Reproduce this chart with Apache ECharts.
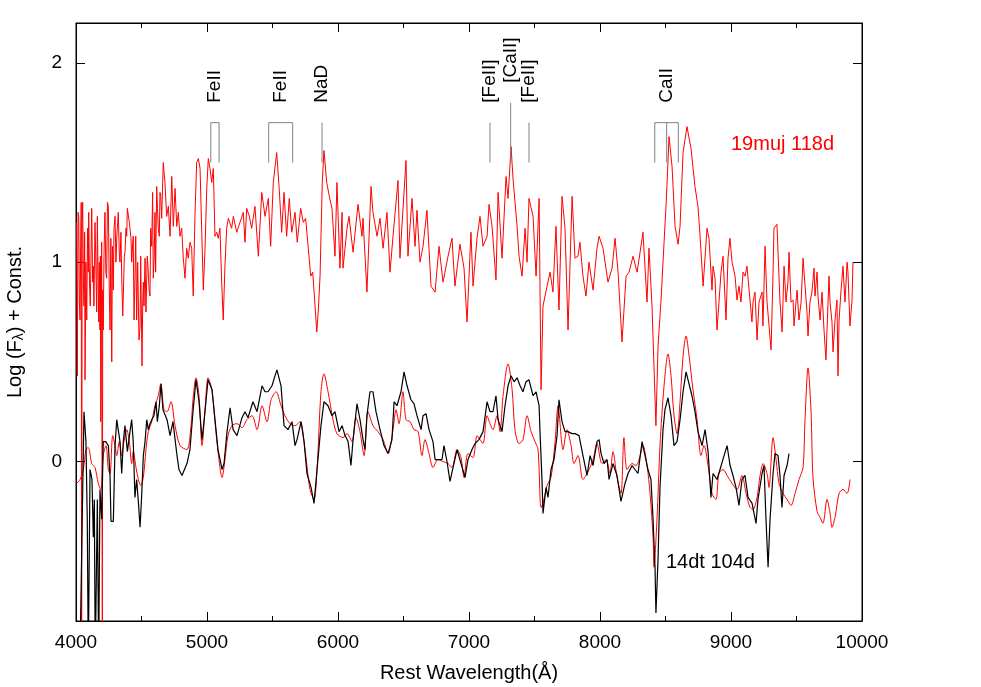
<!DOCTYPE html>
<html>
<head>
<meta charset="utf-8">
<script src="https://cdn.jsdelivr.net/npm/echarts@6/dist/echarts.min.js"></script>
<style>
  html, body { margin: 0; padding: 0; background: #fff; }
  #chart { width: 981px; height: 687px; }
</style>
</head>
<body>
<div id="chart"></div>
<script>
// SN 2019muj at 118d (top, red), [wavelength (A), log flux + const]
const muj118 = [
  [4005,1.20],[4010,0.43],[4016,1.25],[4021,1.23],[4026,0.80],[4031,0.71],[4036,1.10],[4040,1.30],[4043,-1.0],[4047,1.20],
  [4051,1.30],[4056,0.92],[4061,0.78],[4066,1.15],[4069,0.41],[4075,1.00],[4082,0.71],[4088,1.17],[4094,0.95],[4097,1.25],
  [4103,0.90],[4109,0.78],[4115,1.05],[4120,1.27],[4127,0.90],[4132,0.98],[4137,0.78],[4145,1.20],[4150,1.05],[4158,0.75],
  [4163,1.23],[4170,1.22],[4173,0.70],[4178,1.00],[4183,0.66],[4186,1.03],[4189,0.20],[4196,1.10],[4201,-1.0],[4204,0.86],
  [4208,0.66],[4214,1.05],[4221,1.25],[4228,0.95],[4234,0.92],[4240,1.30],[4247,1.28],[4254,0.86],[4260,0.66],[4266,1.12],
  [4273,0.50],[4278,1.08],[4285,0.86],[4290,1.17],[4298,1.23],[4305,1.00],[4311,1.12],[4318,1.20],[4323,1.25],[4331,1.03],
  [4336,1.00],[4343,1.15],[4349,0.92],[4357,0.73],[4361,0.83],[4369,1.03],[4374,1.05],[4382,1.17],[4387,1.13],[4392,1.27],
  [4399,1.27],[4407,1.20],[4412,1.20],[4420,1.12],[4425,1.00],[4433,1.10],[4437,1.13],[4443,0.71],[4450,0.92],[4456,1.13],
  [4463,0.71],[4471,1.00],[4476,1.00],[4481,0.61],[4489,0.68],[4494,1.03],[4502,1.03],[4504,0.48],[4509,0.78],[4514,0.90],
  [4519,0.78],[4527,1.02],[4534,0.75],[4540,0.75],[4544,1.03],[4552,0.95],[4558,0.86],[4565,0.83],[4570,1.17],[4578,1.08],
  [4585,1.35],[4590,0.92],[4597,1.03],[4603,1.25],[4608,0.95],[4616,1.38],[4622,1.27],[4628,1.17],[4636,1.13],[4641,1.35],
  [4647,1.33],[4654,1.22],[4660,1.36],[4666,1.50],[4679,1.40],[4692,1.23],[4705,1.28],[4718,1.13],[4731,1.43],[4743,1.18],
  [4756,1.37],[4769,1.18],[4781,1.25],[4794,1.13],[4807,1.17],[4819,1.02],[4832,0.92],[4845,1.07],[4857,1.02],[4870,1.10],
  [4883,1.07],[4895,0.83],[4908,1.23],[4921,1.50],[4934,1.52],[4947,1.47],[4960,1.15],[4972,0.86],[4985,1.07],[4998,1.37],
  [5010,1.52],[5023,1.47],[5036,1.40],[5048,1.47],[5061,1.13],[5074,1.15],[5086,1.12],[5099,1.17],[5112,0.90],[5124,0.71],
  [5137,0.98],[5150,1.17],[5163,1.22],[5188,1.17],[5201,1.23],[5227,1.15],[5252,1.20],[5277,1.25],[5290,1.10],[5303,1.27],
  [5323,1.23],[5341,1.17],[5366,1.28],[5392,1.03],[5418,1.35],[5443,1.23],[5468,1.32],[5486,1.08],[5506,1.40],[5532,1.55],
  [5552,1.36],[5570,1.15],[5588,1.35],[5608,1.13],[5628,1.32],[5647,1.15],[5672,1.25],[5689,1.10],[5715,1.27],[5735,1.20],
  [5753,1.22],[5773,1.07],[5792,0.93],[5807,0.95],[5825,0.78],[5838,0.65],[5850,0.76],[5863,0.93],[5880,1.40],[5893,1.56],
  [5914,1.40],[5934,1.33],[5954,1.27],[5977,1.03],[5992,1.40],[6015,0.97],[6031,1.25],[6038,0.97],[6069,1.17],[6084,1.23],
  [6115,1.05],[6153,1.29],[6183,1.13],[6191,1.22],[6221,0.85],[6252,1.38],[6267,1.25],[6298,1.13],[6321,1.22],[6344,1.07],
  [6374,1.25],[6397,0.95],[6420,1.13],[6458,1.41],[6473,1.02],[6519,1.51],[6534,1.03],[6565,1.32],[6588,1.08],[6603,1.26],
  [6626,1.00],[6649,1.08],[6679,1.26],[6710,0.88],[6741,0.85],[6771,1.08],[6802,0.90],[6840,1.03],[6870,1.12],[6893,0.88],
  [6931,1.09],[6962,0.97],[6985,0.70],[7015,1.15],[7031,0.88],[7061,1.12],[7084,1.23],[7107,1.08],[7138,1.13],[7153,1.29],
  [7176,1.18],[7206,0.91],[7222,1.35],[7252,1.02],[7283,1.43],[7298,1.32],[7321,1.58],[7336,1.42],[7367,1.18],[7382,1.03],
  [7405,0.93],[7428,1.17],[7443,1.00],[7458,1.32],[7489,1.23],[7512,0.93],[7535,1.32],[7550,0.36],[7565,0.78],[7596,0.88],
  [7619,0.95],[7641,0.85],[7664,1.18],[7687,0.76],[7710,1.33],[7733,1.17],[7756,0.66],[7787,1.33],[7809,1.02],[7832,1.03],
  [7847,1.10],[7870,0.93],[7893,0.83],[7916,1.00],[7947,0.86],[7977,1.07],[7993,1.13],[8023,1.07],[8061,0.90],[8092,0.97],
  [8115,1.12],[8138,0.95],[8168,0.60],[8199,0.93],[8222,0.95],[8252,1.03],[8283,0.95],[8306,1.05],[8328,1.15],[8359,0.80],
  [8374,1.07],[8397,0.78],[8412,0.48],[8427,0.18],[8443,0.58],[8466,0.81],[8489,1.10],[8504,1.28],[8527,1.63],[8550,1.48],
  [8573,1.18],[8596,1.09],[8611,1.18],[8634,1.55],[8664,1.68],[8695,1.57],[8725,1.38],[8748,1.28],[8764,1.13],[8787,0.88],
  [8817,1.17],[8832,1.12],[8855,0.86],[8863,0.98],[8878,0.92],[8893,0.66],[8901,0.73],[8924,0.95],[8939,1.03],[8962,0.71],
  [8977,1.02],[8992,1.12],[9008,1.00],[9015,0.98],[9031,0.93],[9046,0.81],[9061,0.88],[9076,0.80],[9092,0.95],[9107,0.93],
  [9122,0.98],[9145,0.81],[9160,0.70],[9168,0.80],[9183,0.85],[9199,0.61],[9214,0.80],[9237,0.85],[9244,0.68],[9260,1.08],
  [9275,0.80],[9283,0.81],[9306,0.56],[9321,0.95],[9328,1.17],[9351,1.19],[9359,1.05],[9374,0.80],[9390,0.65],[9405,0.98],
  [9420,0.80],[9435,0.90],[9443,1.05],[9458,0.80],[9474,0.81],[9481,0.68],[9504,0.86],[9519,0.71],[9535,0.80],[9550,1.02],
  [9565,1.03],[9580,0.75],[9588,0.63],[9603,0.80],[9618,0.85],[9634,0.97],[9641,0.83],[9657,0.95],[9664,0.83],[9680,0.71],
  [9695,0.85],[9710,0.66],[9725,0.51],[9733,0.66],[9748,0.93],[9756,0.80],[9771,0.70],[9779,0.55],[9794,0.71],[9809,0.81],
  [9817,0.43],[9825,0.71],[9840,0.86],[9855,0.98],[9870,0.80],[9886,1.00],[9893,0.95],[9908,0.68],[9924,0.81],[9931,1.00]
];

// SN 2019muj smoothed, shifted down for comparison (bottom, red)
const muj118Low = [
  [4005,-0.11],[4031,-0.09],[4056,-0.04],[4076,0.06],[4094,0.07],[4120,-0.01],[4145,-0.03],[4170,-0.11],[4189,-0.14],[4208,0.03],
  [4229,0.08],[4247,-0.04],[4260,-0.06],[4280,0.13],[4298,0.08],[4311,0.03],[4331,0.10],[4349,0.03],[4366,0.10],[4387,0.16],
  [4407,0.10],[4425,-0.01],[4437,0.05],[4458,-0.03],[4476,-0.09],[4494,-0.12],[4514,-0.08],[4534,0.06],[4552,0.15],[4578,0.20],
  [4603,0.28],[4628,0.33],[4647,0.39],[4672,0.26],[4695,0.25],[4725,0.30],[4756,0.18],[4794,0.08],[4847,0.06],[4878,0.18],
  [4893,0.31],[4916,0.42],[4939,0.33],[4962,0.08],[4985,0.26],[5008,0.42],[5038,0.36],[5061,0.20],[5084,0.05],[5115,-0.08],
  [5137,0.01],[5160,0.13],[5191,0.18],[5229,0.19],[5267,0.17],[5305,0.21],[5344,0.23],[5382,0.16],[5420,0.28],[5458,0.20],
  [5489,0.31],[5527,0.35],[5565,0.28],[5595,0.23],[5634,0.19],[5672,0.18],[5710,0.20],[5748,0.06],[5786,-0.14],[5817,-0.19],
  [5840,-0.04],[5870,0.35],[5893,0.44],[5924,0.35],[5962,0.21],[5992,0.14],[6038,0.12],[6069,0.14],[6107,0.10],[6137,0.22],
  [6168,0.15],[6199,0.03],[6229,0.25],[6267,0.18],[6305,0.15],[6344,0.11],[6382,0.04],[6420,0.16],[6443,0.26],[6466,0.19],
  [6496,0.35],[6519,0.21],[6550,0.20],[6580,0.16],[6611,0.15],[6641,0.03],[6664,0.11],[6695,0.04],[6725,-0.03],[6763,0.01],
  [6802,0.00],[6840,-0.01],[6870,-0.03],[6909,0.06],[6939,0.02],[6962,-0.08],[6992,0.04],[7031,0.02],[7061,0.13],[7084,0.11],
  [7107,0.09],[7138,0.23],[7160,0.19],[7183,0.16],[7214,0.23],[7237,0.15],[7260,0.33],[7298,0.49],[7329,0.36],[7351,0.16],
  [7382,0.09],[7412,0.11],[7443,0.23],[7474,0.15],[7504,0.10],[7527,0.06],[7550,-0.23],[7565,-0.21],[7596,-0.12],[7626,-0.08],
  [7657,0.10],[7680,0.28],[7718,0.06],[7748,0.16],[7779,0.08],[7802,-0.01],[7832,0.03],[7870,-0.09],[7909,-0.05],[7947,0.01],
  [7977,0.09],[8015,-0.01],[8046,0.01],[8076,-0.06],[8099,0.05],[8130,-0.08],[8160,-0.16],[8183,0.12],[8206,-0.04],[8245,-0.01],
  [8275,-0.02],[8298,0.01],[8328,0.08],[8359,-0.02],[8382,-0.16],[8405,-0.38],[8412,-0.53],[8435,-0.29],[8458,0.08],[8489,0.38],
  [8519,0.54],[8542,0.43],[8565,0.23],[8588,0.14],[8611,0.30],[8634,0.53],[8657,0.63],[8680,0.53],[8710,0.36],[8741,0.21],
  [8771,0.03],[8794,0.08],[8825,-0.02],[8855,-0.16],[8885,-0.19],[8908,-0.06],[8939,-0.04],[8970,-0.07],[9008,-0.11],[9046,-0.14],
  [9084,-0.07],[9115,-0.16],[9145,-0.23],[9168,-0.24],[9199,-0.18],[9222,-0.07],[9245,-0.01],[9275,-0.06],[9290,-0.13],[9321,0.12],
  [9344,0.01],[9367,-0.11],[9397,-0.16],[9428,-0.19],[9458,-0.22],[9489,-0.16],[9519,-0.09],[9550,-0.03],[9565,0.21],[9588,0.47],
  [9611,0.25],[9626,-0.08],[9657,-0.25],[9680,-0.28],[9702,-0.31],[9733,-0.19],[9756,-0.26],[9771,-0.33],[9794,-0.28],[9825,-0.16],
  [9855,-0.14],[9886,-0.16],[9909,-0.09]
];

// SN 2014dt at 104d (bottom, black)
const dt104 = [
  [4030,-1.0],[4061,0.25],[4076,0.10],[4086,-0.29],[4094,-1.0],[4107,-0.04],[4122,-0.09],[4132,-0.38],[4140,-0.19],[4147,-1.0],
  [4163,-0.19],[4173,-1.0],[4183,-0.14],[4196,-0.29],[4208,0.10],[4227,0.10],[4247,0.08],[4260,-0.08],[4267,-0.30],[4285,-0.30],
  [4298,0.08],[4311,0.21],[4323,0.21],[4336,0.10],[4349,-0.06],[4361,0.10],[4374,0.18],[4392,0.05],[4412,0.15],[4425,0.21],
  [4437,0.10],[4450,-0.18],[4463,-0.09],[4476,-0.20],[4489,-0.33],[4502,-0.16],[4514,0.03],[4527,0.10],[4540,0.21],[4552,0.16],
  [4565,0.19],[4578,0.21],[4595,0.23],[4611,0.30],[4621,0.20],[4636,0.28],[4649,0.39],[4664,0.26],[4695,0.21],[4718,0.13],
  [4740,0.20],[4771,0.03],[4786,-0.04],[4809,-0.07],[4847,-0.01],[4870,0.06],[4893,0.25],[4916,0.41],[4939,0.30],[4962,0.11],
  [4977,0.20],[5008,0.41],[5038,0.36],[5061,0.21],[5084,0.06],[5115,-0.04],[5130,-0.01],[5153,0.15],[5176,0.27],[5199,0.16],
  [5229,0.13],[5267,0.22],[5290,0.25],[5313,0.22],[5351,0.30],[5382,0.25],[5420,0.38],[5443,0.35],[5466,0.35],[5496,0.38],
  [5519,0.43],[5534,0.46],[5565,0.38],[5588,0.18],[5618,0.16],[5649,0.20],[5672,0.08],[5687,0.11],[5718,0.20],[5741,0.10],
  [5763,-0.06],[5794,-0.13],[5817,-0.21],[5840,-0.04],[5870,0.18],[5893,0.30],[5924,0.28],[5954,0.23],[5977,0.25],[5992,0.25],
  [6008,0.15],[6031,0.18],[6054,0.13],[6077,0.10],[6099,-0.02],[6115,0.11],[6145,0.29],[6168,0.21],[6191,0.11],[6206,0.06],
  [6221,0.23],[6244,0.35],[6267,0.35],[6290,0.25],[6321,0.16],[6351,0.08],[6382,0.04],[6412,0.11],[6428,0.30],[6450,0.28],
  [6481,0.35],[6504,0.45],[6527,0.38],[6557,0.31],[6580,0.29],[6603,0.23],[6634,0.16],[6649,0.23],[6672,0.24],[6695,0.16],
  [6725,0.10],[6741,0.01],[6763,0.01],[6794,0.01],[6809,0.08],[6832,0.00],[6855,-0.10],[6878,-0.03],[6909,0.06],[6939,-0.01],
  [6970,-0.08],[6992,0.01],[7023,0.06],[7046,0.09],[7076,0.11],[7107,0.15],[7138,0.30],[7160,0.25],[7183,0.25],[7206,0.33],
  [7222,0.21],[7252,0.15],[7275,0.28],[7298,0.38],[7321,0.43],[7344,0.40],[7367,0.42],[7390,0.38],[7412,0.35],[7435,0.40],
  [7458,0.41],[7489,0.33],[7512,0.35],[7535,0.28],[7542,0.15],[7557,-0.09],[7565,-0.26],[7588,-0.13],[7603,-0.18],[7626,-0.04],
  [7649,0.01],[7672,0.13],[7687,0.31],[7710,0.20],[7733,0.15],[7756,0.15],[7787,0.14],[7809,0.14],[7840,0.13],[7870,0.03],
  [7901,-0.07],[7924,0.03],[7947,-0.02],[7977,0.10],[7993,0.11],[8008,0.04],[8031,-0.01],[8054,0.01],[8069,-0.09],[8099,-0.01],
  [8130,-0.07],[8160,-0.20],[8191,-0.11],[8214,-0.06],[8245,-0.02],[8267,-0.04],[8290,-0.06],[8321,0.10],[8344,0.03],[8366,-0.04],
  [8389,-0.09],[8405,-0.29],[8420,-0.53],[8427,-0.76],[8443,-0.49],[8458,-0.13],[8481,0.16],[8496,0.26],[8519,0.32],[8542,0.23],
  [8565,0.08],[8588,0.10],[8611,0.21],[8634,0.35],[8657,0.45],[8672,0.45],[8702,0.33],[8725,0.25],[8748,0.15],[8779,0.08],
  [8802,0.16],[8825,0.05],[8847,-0.18],[8863,-0.06],[8893,-0.09],[8916,-0.04],[8947,0.03],[8970,0.08],[8993,-0.02],[9015,-0.07],
  [9038,-0.13],[9061,-0.22],[9084,-0.09],[9107,-0.07],[9130,-0.18],[9161,-0.21],[9191,-0.31],[9206,-0.19],[9237,-0.06],[9252,-0.02],
  [9267,-0.29],[9283,-0.53],[9298,-0.29],[9321,-0.06],[9336,0.04],[9359,0.03],[9374,-0.07],[9389,-0.23],[9405,-0.07],[9428,-0.02],
  [9443,0.04]
];

// line identifications: wavelengths of the marker ticks
const lineIds = [
  { name: 'FeII',   waves: [5029, 5092] },
  { name: 'FeII',   waves: [5471, 5654] },
  { name: 'NaD',    waves: [5878] },
  { name: '[FeII]', waves: [7160] },
  { name: '[CaII]', waves: [7318], tall: true },
  { name: '[FeII]', waves: [7458] },
  { name: 'CaII',   waves: [8418, 8509, 8598] }
];
const markTop = 1.70, markBottom = 1.50, tallTop = 1.80;
const labelBase = 1.80, tallLabelBase = 1.90;

const xTicks = [4000, 5000, 6000, 7000, 8000, 9000, 10000];
const yTicks = [0, 1, 2];

const FONT = "'Liberation Sans', Arial, sans-serif";
const chart = echarts.init(document.getElementById('chart'));

const idSeries = {
  type: 'custom',
  silent: true,
  clip: false,
  z: 5,
  data: lineIds.map(g => [g.waves[0], markBottom]),
  renderItem: function (params, api) {
    const g = lineIds[params.dataIndex];
    const top = g.tall ? tallTop : markTop;
    const yT = api.coord([g.waves[0], top])[1];
    const yB = api.coord([g.waves[0], markBottom])[1];
    const xs = g.waves.map(w => api.coord([w, markBottom])[0]);
    const lineStyle = { stroke: '#808080', lineWidth: 1 };
    const children = xs.map(x => ({
      type: 'line',
      shape: { x1: x, y1: yT, x2: x, y2: yB },
      style: lineStyle
    }));
    if (xs.length > 1) {
      children.push({
        type: 'line',
        shape: { x1: xs[0], y1: yT, x2: xs[xs.length - 1], y2: yT },
        style: lineStyle
      });
    }
    const cx = (xs[0] + xs[xs.length - 1]) / 2;
    const ly = api.coord([g.waves[0], g.tall ? tallLabelBase : labelBase])[1];
    children.push({
      type: 'text',
      x: cx,
      y: ly,
      rotation: Math.PI / 2,
      style: {
        text: g.name,
        fill: '#000',
        font: '19px ' + FONT,
        align: 'left',
        verticalAlign: 'middle'
      }
    });
    return { type: 'group', children: children };
  }
};

const option = {
  animation: false,
  backgroundColor: '#fff',
  textStyle: { fontFamily: FONT },
  grid: {
    left: 76, right: 119, top: 23, bottom: 66,
    outerBoundsMode: 'none',
    show: true, borderColor: '#000', borderWidth: 1
  },
  xAxis: [
    {
      type: 'value', min: 4000, max: 10000, interval: 1000,
      name: 'Rest Wavelength(Å)', nameLocation: 'middle', nameGap: 42,
      nameTextStyle: { color: '#000', fontSize: 20, fontFamily: FONT },
      axisLine: { show: true, onZero: false, lineStyle: { color: '#000' } },
      axisTick: { inside: true, length: 9, lineStyle: { color: '#000' } },
      minorTick: { show: true, splitNumber: 2, length: 5, lineStyle: { color: '#000' } },
      axisLabel: { color: '#000', fontSize: 19, margin: 12, fontFamily: FONT,
        formatter: v => xTicks.includes(v) ? String(v) : '' },
      splitLine: { show: false }
    },
    {
      type: 'value', min: 4000, max: 10000, interval: 1000, position: 'top',
      axisLine: { show: true, onZero: false, lineStyle: { color: '#000' } },
      axisTick: { inside: true, length: 9, lineStyle: { color: '#000' } },
      minorTick: { show: true, splitNumber: 2, length: 5, lineStyle: { color: '#000' } },
      axisLabel: { show: false },
      splitLine: { show: false }
    }
  ],
  yAxis: [
    {
      type: 'value', min: -0.8, max: 2.2,
      name: 'Log (F{sub|λ}) + Const.', nameLocation: 'middle', nameGap: 50, nameRotate: 90,
      nameTextStyle: {
        color: '#000', fontSize: 20, fontFamily: FONT,
        rich: { sub: { fontSize: 14, fontFamily: FONT, color: '#000', padding: [8, 0, 0, 0] } }
      },
      axisLine: { show: true, onZero: false, lineStyle: { color: '#000' } },
      axisTick: { inside: true, length: 9, customValues: yTicks, lineStyle: { color: '#000' } },
      axisLabel: { color: '#000', fontSize: 19, margin: 14, fontFamily: FONT, customValues: yTicks },
      splitLine: { show: false }
    },
    {
      type: 'value', min: -0.8, max: 2.2, position: 'right',
      axisLine: { show: true, onZero: false, lineStyle: { color: '#000' } },
      axisTick: { inside: true, length: 9, customValues: yTicks, lineStyle: { color: '#000' } },
      axisLabel: { show: false, customValues: yTicks },
      splitLine: { show: false }
    }
  ],
  graphic: [
    { type: 'text', left: 731, top: 134,
      style: { text: '19muj 118d', fill: '#ff0000', font: '20px ' + FONT } },
    { type: 'text', left: 666, top: 552,
      style: { text: '14dt 104d', fill: '#000', font: '20px ' + FONT } }
  ],
  series: [
    {
      name: '19muj 118d', type: 'line', data: muj118, showSymbol: false,
      clip: true, lineStyle: { color: '#ff0000', width: 1 }, z: 2
    },
    {
      name: '19muj smoothed', type: 'line', data: muj118Low, showSymbol: false, smooth: 0.3,
      clip: true, lineStyle: { color: '#ff0000', width: 1 }, z: 2
    },
    {
      name: '14dt 104d', type: 'line', data: dt104, showSymbol: false,
      clip: true, lineStyle: { color: '#000', width: 1.2 }, z: 3
    },
    idSeries
  ]
};

chart.setOption(option);
</script>
</body>
</html>
